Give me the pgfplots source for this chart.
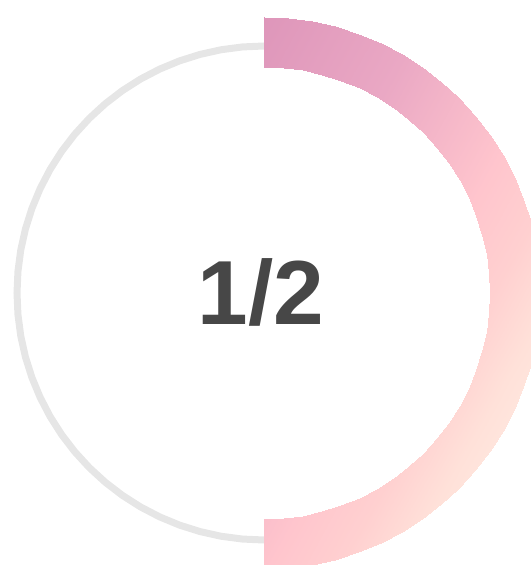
\documentclass[border=0pt]{standalone}
\usepackage{fontspec}
\setmainfont{Liberation Sans}
\usepackage{pgfplots}
\usepackage{pgfplotstable}
\pgfplotsset{compat=1.18}

\definecolor{track}{HTML}{E6E6E6}
\definecolor{txt}{HTML}{474747}

% progress 1/2 -> arc from 90 down to -90 degrees, inner/outer radius
\pgfplotstableread{
a r
90 226
85 226
80 226
75 226
70 226
65 226
60 226
55 226
50 226
45 226
40 226
35 226
30 226
25 226
20 226
15 226
10 226
5 226
0 226
-5 226
-10 226
-15 226
-20 226
-25 226
-30 226
-35 226
-40 226
-45 226
-50 226
-55 226
-60 226
-65 226
-70 226
-75 226
-80 226
-85 226
-90 226
90 276
85 276
80 276
75 276
70 276
65 276
60 276
55 276
50 276
45 276
40 276
35 276
30 276
25 276
20 276
15 276
10 276
5 276
0 276
-5 276
-10 276
-15 276
-20 276
-25 276
-30 276
-35 276
-40 276
-45 276
-50 276
-55 276
-60 276
-65 276
-70 276
-75 276
-80 276
-85 276
-90 276
}\arcpts

\pgfplotsset{colormap={ring}{
  rgb255(273)=(222,150,186)
  rgb255(435)=(234,168,196)
  rgb255(587)=(255,197,205)
  rgb255(657)=(255,208,208)
  rgb255(720)=(255,225,217)
  rgb255(847)=(255,243,233)
}}

\begin{document}
\begin{tikzpicture}
\begin{axis}[
    view={0}{90},
    width=531pt, height=565pt, scale only axis,
    xmin=0, xmax=531, ymin=0, ymax=565, zmin=-1, zmax=300,
    hide axis,
    colormap name=ring,
    point meta min=273, point meta max=847,
]
% grey track (left half, the rest sits under the progress arc)
\addplot3[track, line width=7pt, no markers, skip coords between index={37}{74}]
    table[x expr={264-247*cos(\thisrow{a})}, y expr={272+247*sin(\thisrow{a})}, z index=1, z expr=0] {\arcpts};
% progress arc
\addplot3[surf, shader=interp, mesh/cols=37,
    point meta={428+\thisrow{r}*(cos(\thisrow{a})-0.56*sin(\thisrow{a}))}]
    table[x expr={264+\thisrow{r}*cos(\thisrow{a})}, y expr={272+\thisrow{r}*sin(\thisrow{a})}, z index=1, z expr=0] {\arcpts};
\node[anchor=base, inner sep=0pt, text=txt, font=\bfseries\fontsize{91}{91}\selectfont]
    at (axis cs:261,240,0) {1/2};
\end{axis}
\pgfresetboundingbox
\path[use as bounding box] (current axis.south west) rectangle (current axis.north east);
\end{tikzpicture}
\end{document}
